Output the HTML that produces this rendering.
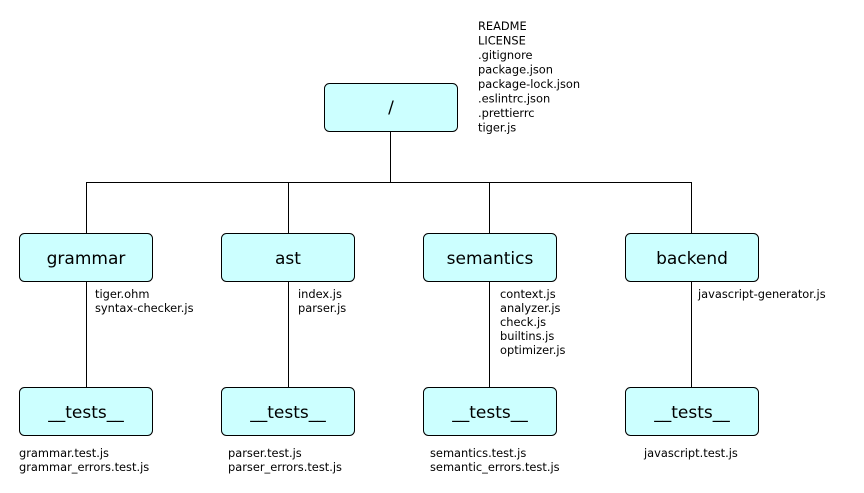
<!DOCTYPE html>
<html><head><style>
html,body{margin:0;padding:0;background:#fff;}
svg{display:block;}
text{font-family:"DejaVu Sans","Liberation Sans",sans-serif;fill:#000;}
.s{font-size:11.4px;}
.b{font-size:17px;}
rect{fill:#ccffff;stroke:#000;stroke-width:1;}
line{stroke:#000;stroke-width:1;}
</style></head><body>
<svg width="864" height="493" viewBox="0 0 864 493">
<line x1="390.5" y1="131" x2="390.5" y2="182"/>
<line x1="86.5" y1="182.5" x2="691.5" y2="182.5"/>
<line x1="86.5" y1="182" x2="86.5" y2="387"/>
<line x1="288.5" y1="182" x2="288.5" y2="387"/>
<line x1="489.5" y1="182" x2="489.5" y2="387"/>
<line x1="691.5" y1="182" x2="691.5" y2="387"/>
<rect x="324.5" y="83.5" width="133" height="48" rx="5"/>
<rect x="19.5" y="233.5" width="133" height="48" rx="5"/>
<rect x="221.5" y="233.5" width="133" height="48" rx="5"/>
<rect x="423.5" y="233.5" width="133" height="48" rx="5"/>
<rect x="625.5" y="233.5" width="133" height="48" rx="5"/>
<rect x="19.5" y="387.5" width="133" height="48" rx="5"/>
<rect x="221.5" y="387.5" width="133" height="48" rx="5"/>
<rect x="423.5" y="387.5" width="133" height="48" rx="5"/>
<rect x="625.5" y="387.5" width="133" height="48" rx="5"/>
<g class="b" text-anchor="middle">
<text x="391" y="113">/</text>
<text x="86" y="264">grammar</text>
<text x="288" y="264">ast</text>
<text x="490" y="264">semantics</text>
<text x="692" y="264">backend</text>
<text x="86" y="418">__tests__</text>
<text x="288" y="418">__tests__</text>
<text x="490" y="418">__tests__</text>
<text x="692" y="418">__tests__</text>
</g>
<g class="s">
<text x="478" y="30">README</text>
<text x="478" y="44.5">LICENSE</text>
<text x="478" y="59">.gitignore</text>
<text x="478" y="73.5">package.json</text>
<text x="478" y="88">package-lock.json</text>
<text x="478" y="102.5">.eslintrc.json</text>
<text x="478" y="117">.prettierrc</text>
<text x="478" y="131.5">tiger.js</text>
<text x="95" y="298">tiger.ohm</text>
<text x="95" y="312">syntax-checker.js</text>
<text x="298" y="298">index.js</text>
<text x="298" y="312">parser.js</text>
<text x="500" y="298">context.js</text>
<text x="500" y="312">analyzer.js</text>
<text x="500" y="326">check.js</text>
<text x="500" y="340">builtins.js</text>
<text x="500" y="354">optimizer.js</text>
<text x="698" y="298">javascript-generator.js</text>
<text x="19" y="457">grammar.test.js</text>
<text x="19" y="471">grammar_errors.test.js</text>
<text x="228" y="457">parser.test.js</text>
<text x="228" y="471">parser_errors.test.js</text>
<text x="430" y="457">semantics.test.js</text>
<text x="430" y="471">semantic_errors.test.js</text>
<text x="644" y="457">javascript.test.js</text>
</g>
</svg>
</body></html>
